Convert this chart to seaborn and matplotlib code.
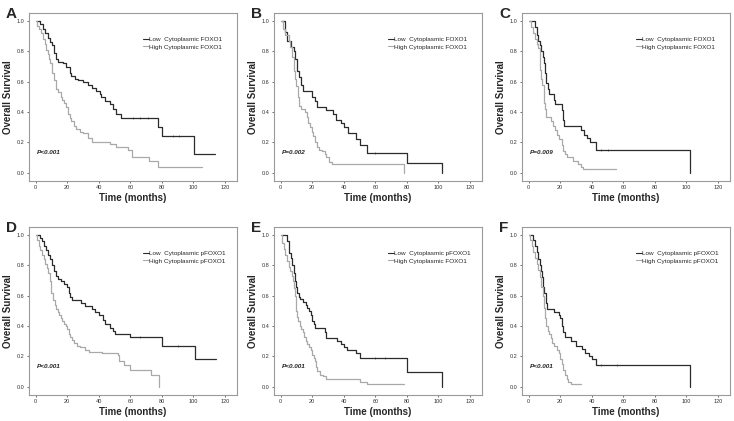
import numpy as np
import seaborn as sns
import matplotlib.pyplot as plt
from matplotlib.lines import Line2D

# Kaplan-Meier curves: time (months) where survival steps to the value
A_LOW_T = [0, 2.5, 4.6, 5.7, 7.8, 8.9, 10.6, 11.6, 13, 14, 17.3, 19.5, 21.6, 22.6, 24.7, 26.8, 30, 33, 36, 38.5, 40.6, 41.6, 43.8, 47, 49, 51, 54.3, 77.8, 80, 100.5, 113.5]
A_LOW_S = [1.0, 0.98, 0.95, 0.92, 0.89, 0.86, 0.84, 0.79, 0.75, 0.73, 0.72, 0.70, 0.66, 0.64, 0.62, 0.61, 0.60, 0.58, 0.56, 0.54, 0.52, 0.50, 0.47, 0.45, 0.42, 0.39, 0.36, 0.30, 0.24, 0.12, 0.12]
A_HIGH_T = [0, 1, 2, 3.6, 4.5, 5.7, 6.8, 7.8, 8.5, 9.3, 10.4, 11.4, 12.7, 14, 16, 17, 18, 19.5, 20.5, 21.5, 22.6, 24, 25.8, 28, 30, 33, 36, 47, 51, 58.6, 61, 72, 77.6, 105.5]
A_HIGH_S = [1.0, 0.97, 0.95, 0.92, 0.88, 0.85, 0.81, 0.78, 0.75, 0.72, 0.66, 0.61, 0.55, 0.53, 0.50, 0.48, 0.46, 0.43, 0.39, 0.36, 0.34, 0.31, 0.29, 0.27, 0.26, 0.23, 0.20, 0.19, 0.17, 0.15, 0.10, 0.08, 0.04, 0.04]

B_LOW_T = [0, 3, 4, 6.4, 8.5, 9.4, 10.5, 11.5, 12.8, 14.3, 19.7, 21.5, 22.9, 29, 33, 35, 38, 40, 43, 48, 50, 55, 80, 102]
B_LOW_S = [1.0, 0.93, 0.87, 0.83, 0.80, 0.75, 0.67, 0.63, 0.58, 0.54, 0.50, 0.47, 0.43, 0.41, 0.39, 0.35, 0.33, 0.30, 0.26, 0.22, 0.18, 0.13, 0.065, 0.0]
B_HIGH_T = [0, 1.5, 3, 5, 6, 7, 8.5, 9.4, 10, 11, 11.5, 13.2, 15.4, 16.5, 17.5, 18.6, 19.7, 20.7, 21.8, 22.9, 24, 26, 27.8, 29, 30.8, 32.5, 78]
B_HIGH_S = [1.0, 0.95, 0.91, 0.87, 0.83, 0.76, 0.67, 0.62, 0.57, 0.50, 0.44, 0.42, 0.40, 0.37, 0.33, 0.30, 0.27, 0.24, 0.20, 0.17, 0.15, 0.14, 0.12, 0.10, 0.07, 0.055, 0.0]

C_LOW_T = [0, 4, 5, 6, 7, 8, 9, 9.8, 10.3, 11, 12, 13, 16, 17, 21, 21.7, 22.5, 33, 35, 37, 39, 43, 102]
C_LOW_S = [1.0, 0.96, 0.91, 0.87, 0.84, 0.80, 0.76, 0.72, 0.66, 0.59, 0.55, 0.52, 0.48, 0.45, 0.41, 0.35, 0.31, 0.28, 0.25, 0.23, 0.20, 0.15, 0.0]
C_HIGH_T = [0, 1.5, 3, 4, 5, 6, 7, 7.5, 8, 8.5, 9.5, 10, 10.5, 11, 14, 15.5, 17, 18, 19.5, 21, 22, 23, 24.5, 28, 31, 33.5, 34.5, 55.5]
C_HIGH_S = [1.0, 0.96, 0.92, 0.88, 0.85, 0.82, 0.76, 0.68, 0.62, 0.58, 0.50, 0.46, 0.42, 0.37, 0.34, 0.31, 0.28, 0.25, 0.22, 0.18, 0.14, 0.12, 0.10, 0.08, 0.06, 0.04, 0.025, 0.025]

D_LOW_T = [0, 2.5, 4, 5, 6.5, 8, 9, 10.5, 11.5, 13, 14, 16, 18, 20, 21, 21.5, 23, 29, 31, 36, 37.5, 40, 43, 44, 47, 49, 50, 60, 80, 101, 114]
D_LOW_S = [1.0, 0.98, 0.96, 0.93, 0.90, 0.87, 0.84, 0.80, 0.76, 0.73, 0.71, 0.70, 0.68, 0.66, 0.62, 0.59, 0.57, 0.55, 0.53, 0.51, 0.49, 0.47, 0.44, 0.41, 0.39, 0.37, 0.35, 0.33, 0.27, 0.18, 0.18]
D_HIGH_T = [0, 1, 2, 3, 4, 5, 6, 7, 8, 9, 10, 11, 12, 13, 14, 15, 16, 17, 18, 19, 20, 21, 22, 23, 24, 26, 28, 31, 34, 42, 52, 53, 56, 60, 73, 78]
D_HIGH_S = [1.0, 0.97, 0.93, 0.90, 0.87, 0.84, 0.81, 0.78, 0.75, 0.70, 0.62, 0.57, 0.54, 0.51, 0.49, 0.47, 0.45, 0.43, 0.41, 0.40, 0.38, 0.35, 0.33, 0.31, 0.29, 0.27, 0.26, 0.24, 0.23, 0.22, 0.21, 0.17, 0.14, 0.11, 0.08, 0.0]

E_LOW_T = [0, 4, 5, 5.5, 6.5, 7.5, 8.5, 9, 10, 10.5, 11.5, 12.5, 14, 16, 17, 18, 19, 20, 21, 22, 28, 29, 36, 38, 40, 42, 48, 50, 80, 102]
E_LOW_S = [1.0, 0.96, 0.92, 0.88, 0.85, 0.80, 0.75, 0.70, 0.66, 0.62, 0.59, 0.58, 0.56, 0.54, 0.52, 0.50, 0.47, 0.43, 0.41, 0.39, 0.36, 0.32, 0.30, 0.28, 0.26, 0.245, 0.22, 0.19, 0.095, 0.0]
E_HIGH_T = [0, 1, 2, 3, 4, 5, 6, 7, 8, 8.5, 9, 9.5, 10, 10.5, 11, 12, 13, 14, 15, 16, 17, 18, 19, 20, 21, 22, 22.5, 23, 25, 27, 29, 50, 55, 78]
E_HIGH_S = [1.0, 0.95, 0.91, 0.87, 0.83, 0.79, 0.76, 0.73, 0.70, 0.65, 0.60, 0.55, 0.50, 0.46, 0.43, 0.40, 0.38, 0.36, 0.33, 0.30, 0.28, 0.26, 0.24, 0.21, 0.19, 0.17, 0.13, 0.10, 0.08, 0.07, 0.05, 0.03, 0.015, 0.015]

F_LOW_T = [0, 3, 4, 5, 6, 7, 8, 8.5, 9, 10, 11, 11.5, 16, 19.5, 20, 21, 22, 23, 27, 30, 34, 36, 38, 40, 43, 102]
F_LOW_S = [1.0, 0.97, 0.93, 0.89, 0.84, 0.80, 0.76, 0.72, 0.66, 0.62, 0.55, 0.51, 0.49, 0.47, 0.45, 0.40, 0.36, 0.33, 0.30, 0.27, 0.25, 0.22, 0.20, 0.18, 0.14, 0.0]
F_HIGH_T = [0, 1, 2, 3, 4, 5, 6, 7, 8, 9, 10, 10.5, 11, 12, 13, 14, 15, 16, 18, 19, 20, 21, 22, 23, 24, 25, 27, 33]
F_HIGH_S = [1.0, 0.97, 0.93, 0.89, 0.85, 0.81, 0.77, 0.72, 0.66, 0.60, 0.52, 0.45, 0.40, 0.37, 0.35, 0.32, 0.29, 0.27, 0.24, 0.22, 0.18, 0.15, 0.11, 0.08, 0.05, 0.03, 0.02, 0.02]

# censored cases (small ticks) on the low curves
A_CENS = [62, 66, 71, 87, 91]
B_CENS = [60]
C_CENS = [46, 50]
D_CENS = [66, 90]
E_CENS = [60, 66]
F_CENS = [46, 56]

PANELS = ['A', 'B', 'C', 'D', 'E', 'F']
P_TEXT = ['P<0.001', 'P=0.002', 'P=0.009', 'P<0.001', 'P<0.001', 'P<0.001']
LEG_LOW = ['Low  Cytoplasmic FOXO1', 'Low  Cytoplasmic FOXO1', 'Low  Cytoplasmic FOXO1',
           'Low  Cytoplasmic pFOXO1', 'Low  Cytoplasmic pFOXO1', 'Low  Cytoplasmic pFOXO1']
LEG_HIGH = ['High Cytoplasmic FOXO1', 'High Cytoplasmic FOXO1', 'High Cytoplasmic FOXO1',
            'High Cytoplasmic pFOXO1', 'High Cytoplasmic FOXO1', 'High Cytoplasmic pFOXO1']

curves = {
    'A': (A_LOW_T, A_LOW_S, A_HIGH_T, A_HIGH_S, A_CENS),
    'B': (B_LOW_T, B_LOW_S, B_HIGH_T, B_HIGH_S, B_CENS),
    'C': (C_LOW_T, C_LOW_S, C_HIGH_T, C_HIGH_S, C_CENS),
    'D': (D_LOW_T, D_LOW_S, D_HIGH_T, D_HIGH_S, D_CENS),
    'E': (E_LOW_T, E_LOW_S, E_HIGH_T, E_HIGH_S, E_CENS),
    'F': (F_LOW_T, F_LOW_S, F_HIGH_T, F_HIGH_S, F_CENS),
}

DARK = '#2b2b2b'
LIGHT = '#a9a9a9'

sns.set_style('ticks')
plt.rcParams['font.family'] = ['Liberation Sans', 'DejaVu Sans']

W, H = 734, 421
fig = plt.figure(figsize=(W / 100, H / 100), dpi=100)

# axes boxes in pixels (left, right, top, bottom)
cols = [(29, 237), (274, 482), (522, 730)]
rows = [(13, 181), (227, 395)]

for i, name in enumerate(PANELS):
    l, r = cols[i % 3]
    t, b = rows[i // 3]
    ax = fig.add_axes([l / W, 1 - b / H, (r - l) / W, (b - t) / H])
    lo_t, lo_s, hi_t, hi_s, cens = curves[name]

    sns.lineplot(x=lo_t, y=lo_s, drawstyle='steps-post', color=DARK, lw=0.9,
                 estimator=None, sort=False, ax=ax)
    sns.lineplot(x=hi_t, y=hi_s, drawstyle='steps-post', color=LIGHT, lw=0.9,
                 estimator=None, sort=False, ax=ax)
    # censor ticks sit on the step value at that time
    idx = np.searchsorted(lo_t, cens, side='right') - 1
    cy = np.array(lo_s)[idx]
    sns.scatterplot(x=cens, y=cy, marker='|', s=4, color=DARK, linewidth=0.4, ax=ax)

    ax.set_xlim(-4.2, 127.6)
    ax.set_ylim(-0.055, 1.053)
    ax.set_xticks(np.arange(0, 121, 20))
    ax.set_yticks(np.arange(0, 1.01, 0.2))
    ax.set_yticklabels([f'{v:.1f}' for v in np.arange(0, 1.01, 0.2)])
    ax.tick_params(labelsize=4, length=1.5, width=0.5, pad=1.5, colors='#333333')
    for sp in ax.spines.values():
        sp.set_color('#9a9a9a')
        sp.set_linewidth(0.8)
    ax.set_xlabel('Time (months)', fontsize=7, fontweight='bold', labelpad=2)
    ax.set_ylabel('Overall Survival', fontsize=7, fontweight='bold', labelpad=3)

    ax.text(0.04, 0.16, P_TEXT[i], transform=ax.transAxes, fontsize=4.6,
            fontweight='bold', fontstyle='italic', color='#222222')

    handles = [Line2D([0], [0], color=DARK, lw=0.8), Line2D([0], [0], color=LIGHT, lw=0.8)]
    ax.legend(handles, [LEG_LOW[i], LEG_HIGH[i]], loc='upper left',
              bbox_to_anchor=(0.55, 0.86), frameon=False, fontsize=4.6,
              handlelength=0.8, handletextpad=0.15, labelspacing=0.35,
              borderpad=0, borderaxespad=0)

    fig.text((l - 23) / W, 1 - (t - 6) / H, name, fontsize=11, fontweight='bold',
             ha='left', va='top')

fig.savefig('out.png', dpi=100)
